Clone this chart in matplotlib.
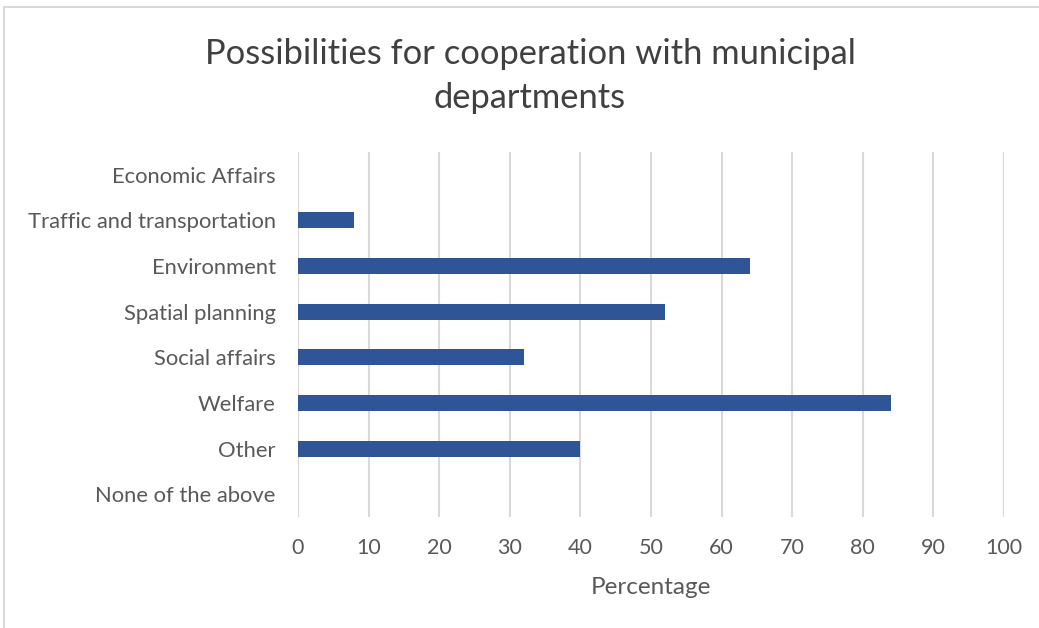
import matplotlib
matplotlib.use("Agg")
import matplotlib.pyplot as plt
from matplotlib.patches import Rectangle

plt.rcParams['font.family'] = ['Lato', 'DejaVu Sans']

categories = ["Economic Affairs", "Traffic and transportation", "Environment",
              "Spatial planning", "Social affairs", "Welfare", "Other",
              "None of the above"]
percentages = [0, 8, 64, 52, 32, 84, 40, 0]
x_ticks = [0, 10, 20, 30, 40, 50, 60, 70, 80, 90, 100]

fig = plt.figure(figsize=(10.39, 6.28), dpi=100)
W, H = 1039, 628
ax = fig.add_axes([298 / W, 1 - 517 / H, (1004 - 298) / W, (517 - 152) / H])

y = list(range(len(categories)))
ax.barh(y, percentages, height=0.35, color="#2F5597", zorder=3)
ax.set_ylim(len(categories) - 0.5, -0.5)
ax.set_xlim(0, 100)
ax.set_xticks(x_ticks)
ax.set_yticks(y)
ax.set_yticklabels(categories)
ax.xaxis.grid(True, color="#D9D9D9", linewidth=1.5, zorder=0)
ax.yaxis.grid(False)
for s in ax.spines.values():
    s.set_visible(False)
ax.tick_params(axis="x", length=0, labelsize=15.5, colors="#595959", pad=15)
ax.tick_params(axis="y", length=0, labelsize=15.8, colors="#595959", pad=16)
ax.set_xlabel("Percentage", fontsize=17.5, color="#595959", labelpad=14)

fig.text(530 / W, 1 - 76 / H, "Possibilities for cooperation with municipal\ndepartments",
         ha="center", va="center", fontsize=24.8, color="#404040", linespacing=1.45)

# chart frame
fig.add_artist(Rectangle((4 / W, -0.01), 1.02, 1 - 7 / H + 0.01, transform=fig.transFigure,
                         fill=False, edgecolor="#D9D9D9", linewidth=1.5))

fig.savefig("out.png", dpi=100, facecolor="white")
